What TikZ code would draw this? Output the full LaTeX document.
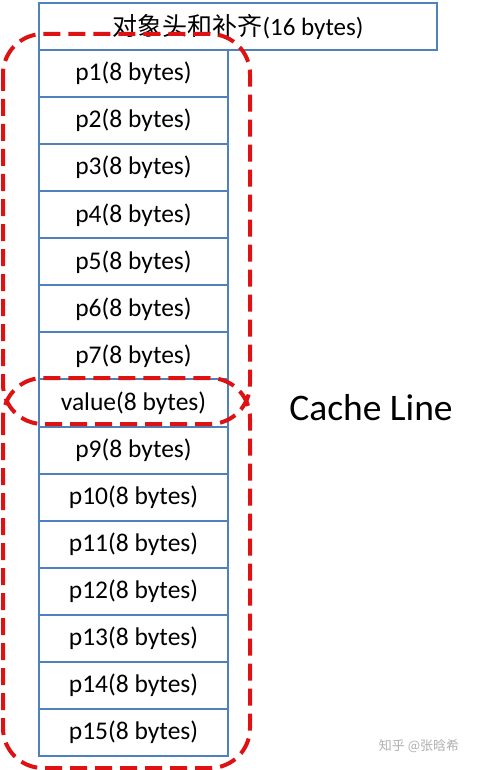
\documentclass[tikz,border=0pt]{standalone}
\usepackage{fontspec}
\setmainfont{Carlito}
\newfontfamily\cjk{Noto Sans CJK SC}
\definecolor{boxblue}{RGB}{79,129,189}
\definecolor{dashred}{RGB}{222,18,18}
\definecolor{wmgray}{RGB}{175,175,175}
\begin{document}
\begin{tikzpicture}[x=1pt,y=-1pt,
  cell/.style={draw=boxblue,line width=2pt,minimum width=189pt,minimum height=47.07pt,
    inner sep=0pt,anchor=north west,font=\fontsize{25.5}{29}\selectfont},
  headbox/.style={draw=boxblue,line width=2pt,minimum width=398pt,minimum height=47pt,
    inner sep=0pt,anchor=north west,font=\fontsize{25}{29}\selectfont},
  redline/.style={draw=dashred,line width=4pt,dash pattern=on 17pt off 8pt,rounded corners=40pt}]
\useasboundingbox (0,0) rectangle (477,770);
\node[headbox] (head) at (38,2) {{\cjk 对象头和补齐}(16 bytes)};
\foreach \lab [count=\i from 0] in {p1,p2,p3,p4,p5,p6,p7,value,p9,p10,p11,p12,p13,p14,p15}{
  \node[cell] (r\i) at (38,49+\i*47.07) {\lab(8 bytes)};
}
\node[font=\fontsize{37.5}{41}\selectfont] (cl) at (371,408) {Cache Line};
\node[font=\cjk\fontsize{13}{15}\selectfont,text=wmgray] (wm) at (419,746) {知乎 @张晗希};
\draw[redline] (3,34) rectangle (250,424);
\draw[redline] (3,378) rectangle (250,768);
\end{tikzpicture}
\end{document}
